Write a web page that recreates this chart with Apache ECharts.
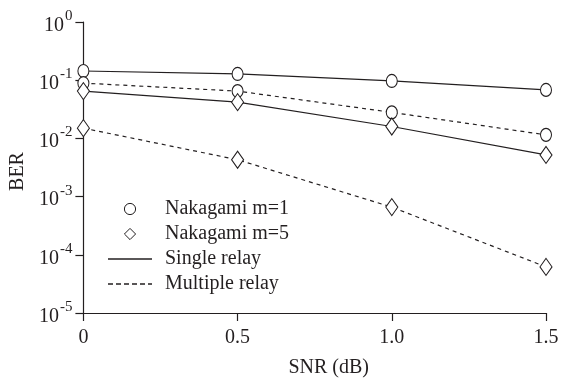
<!DOCTYPE html>
<html>
<head>
<meta charset="utf-8">
<script src="https://cdn.jsdelivr.net/npm/echarts@6/dist/echarts.min.js"></script>
<style>
  html, body { margin: 0; padding: 0; background: #fff; }
  #main { width: 563px; height: 383px; }
</style>
</head>
<body>
<div id="main"></div>
<script>
var snr = [0, 0.5, 1.0, 1.5];
var m1Single = [0.144, 0.128, 0.097, 0.068];
var m1Multiple = [0.089, 0.065, 0.028, 0.0115];
var m5Single = [0.065, 0.042, 0.016, 0.0052];
var m5Multiple = [0.015, 0.0043, 0.00066, 0.000062];
var legendNames = ['Nakagami m=1', 'Nakagami m=5', 'Single relay', 'Multiple relay'];

var ink = '#231f20';
var font = 'Liberation Serif';

function pairs(ys) {
    var out = [];
    for (var i = 0; i < snr.length; i++) {
        out.push([snr[i], ys[i]]);
    }
    return out;
}

function curve(name, ys, symbol, size, dashed) {
    return {
        name: name,
        type: 'line',
        data: pairs(ys),
        symbol: symbol,
        symbolSize: size,
        showAllSymbol: true,
        z: 3,
        lineStyle: { color: ink, width: 1.2, type: dashed ? [4, 4] : 'solid' },
        itemStyle: { color: '#fff', borderColor: ink, borderWidth: 1.1 },
        emphasis: { disabled: true }
    };
}

// dummy series, only there so the legend has entries
function dummy(name, symbol) {
    return {
        name: name,
        type: 'line',
        data: [],
        symbol: symbol,
        lineStyle: { width: 0, color: ink },
        itemStyle: { color: '#fff', borderColor: ink, borderWidth: 1 }
    };
}

var dashPath = 'path://M0,0h5v1.3h-5zM8,0h5v1.3h-5zM16,0h5v1.3h-5zM24,0h5v1.3h-5zM32,0h5v1.3h-5zM40,0h4v1.3h-4z';
var solidPath = 'path://M0,0h44v1.3h-44z';
var openMark = { color: '#fff', borderColor: ink, borderWidth: 1 };

var chart = echarts.init(document.getElementById('main'));
var option = {
    animation: false,
    backgroundColor: '#fff',
    textStyle: { fontFamily: font, color: ink },
    grid: { left: 77, right: 17, top: 22, bottom: 70 },
    legend: {
        orient: 'vertical',
        left: 103,
        top: 194,
        itemWidth: 44,
        itemHeight: 14,
        itemGap: 5,
        selectedMode: false,
        textStyle: { fontFamily: font, fontSize: 20, color: ink, padding: [0, 0, 0, 8] },
        data: [
            { name: legendNames[0], itemStyle: openMark },
            { name: legendNames[1], itemStyle: openMark },
            { name: legendNames[2], icon: solidPath, itemStyle: { color: ink, borderWidth: 0 } },
            { name: legendNames[3], icon: dashPath, itemStyle: { color: ink, borderWidth: 0 } }
        ]
    },
    xAxis: {
        type: 'value',
        min: 0,
        max: 1.5,
        interval: 0.5,
        name: 'SNR (dB)',
        nameLocation: 'middle',
        nameGap: 45,
        nameTextStyle: { fontFamily: font, fontSize: 20, color: ink, padding: [0, 0, 0, 28] },
        splitLine: { show: false },
        axisLine: { lineStyle: { color: ink, width: 1.2 } },
        axisTick: { length: 8, lineStyle: { color: ink, width: 1.2 } },
        axisLabel: {
            margin: 15,
            fontFamily: font,
            fontSize: 20,
            color: ink,
            formatter: function (v) { return v === 0 ? '0' : v.toFixed(1); }
        }
    },
    yAxis: {
        type: 'log',
        logBase: 10,
        min: 1e-5,
        max: 1,
        name: 'BER',
        nameLocation: 'middle',
        nameGap: 52,
        nameRotate: 90,
        nameTextStyle: { fontFamily: font, fontSize: 20, color: ink, padding: [0, 8, 0, 0] },
        splitLine: { show: false },
        axisLine: { lineStyle: { color: ink, width: 1.2 } },
        axisTick: { length: 8, lineStyle: { color: ink, width: 1.2 } },
        axisLabel: {
            margin: 11,
            formatter: function (v) {
                var e = Math.round(Math.log(v) / Math.LN10);
                return '{b|10}{s|' + e + '}';
            },
            rich: {
                b: { fontFamily: font, fontSize: 20, color: ink, verticalAlign: 'bottom', padding: [7, 0, 0, 0] },
                s: { fontFamily: font, fontSize: 15, color: ink, verticalAlign: 'top', padding: [0, 0, 0, 1] }
            }
        }
    },
    series: [
        curve('m1 single', m1Single, 'circle', [11, 13], false),
        curve('m1 multiple', m1Multiple, 'circle', [11, 13], true),
        curve('m5 single', m5Single, 'diamond', [12, 17], false),
        curve('m5 multiple', m5Multiple, 'diamond', [12, 17], true),
        dummy(legendNames[0], 'circle'),
        dummy(legendNames[1], 'diamond'),
        dummy(legendNames[2], 'none'),
        dummy(legendNames[3], 'none')
    ]
};
chart.setOption(option);
</script>
</body>
</html>
